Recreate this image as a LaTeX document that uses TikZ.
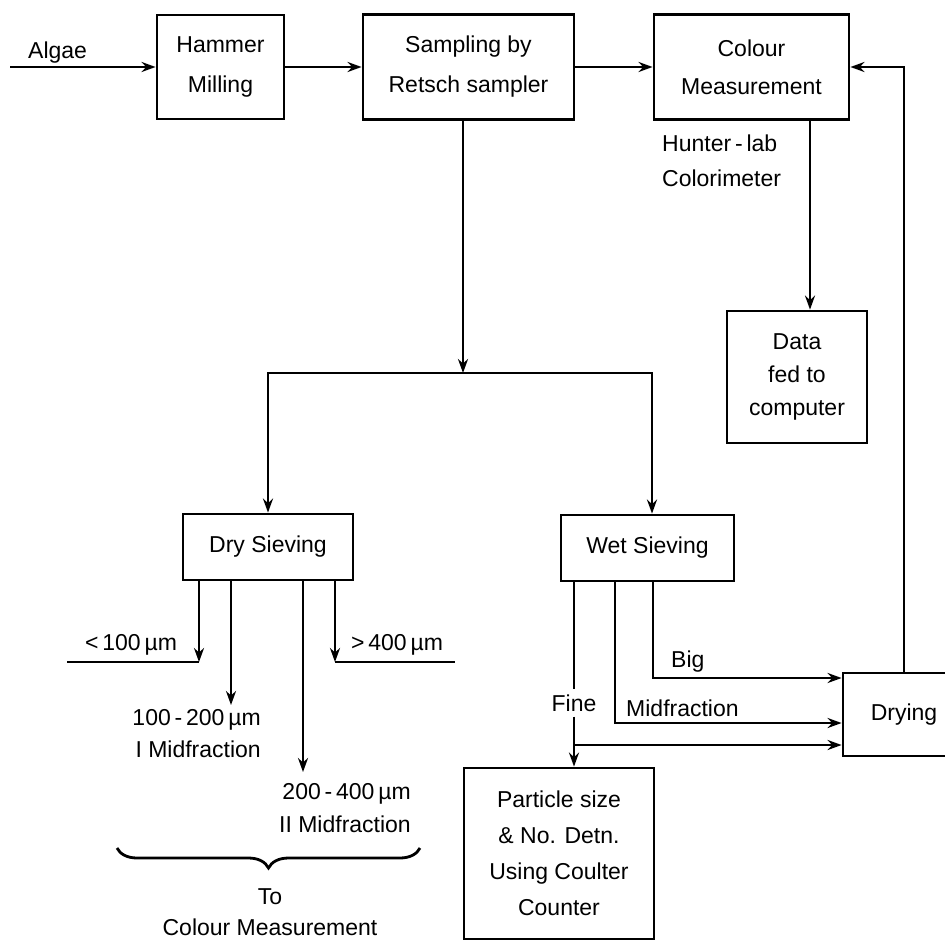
\documentclass[tikz,border=0pt]{standalone}
\usepackage{fontspec}
\setmainfont{Liberation Sans}
\usepackage{tikz}
\usetikzlibrary{arrows.meta,
                positioning,
                decorations.pathreplacing}
\tikzstyle{box} = [draw, line width=2.8pt, align=center, inner sep=0pt]
\tikzstyle{lbl} = [inner sep=1pt, align=center]
\tikzstyle{line} = [line width=2.8pt]
\tikzstyle{arrow} = [line width=2.8pt,-{Stealth[length=14pt,width=10pt]}]
\newcommand{\fs}[1]{\fontsize{23}{#1}\selectfont}

\begin{document}
\begin{tikzpicture}[x=1pt,y=-1pt,font=\fs{34}]
    \useasboundingbox (0,0) rectangle (945,940);
    \fill[white] (0,0) rectangle (945,940);
    \clip (0,0) rectangle (945,940);

    % top row
    \coordinate (feed) at (10,67);
    \node[lbl, anchor=base west] (algae) at (27,58) {Algae};
    \node[box, minimum width=127pt, minimum height=104pt, font=\fs{40}] (hammer) at (220.5,67) {Hammer\\Milling};
    \node[box, minimum width=211pt, minimum height=105pt, font=\fs{40}] (sample) at (468.5,67) {Sampling by\\Retsch sampler};
    \node[box, minimum width=195pt, minimum height=105pt, font=\fs{38}] (colour) at (751.5,67) {Colour\\Measurement};
    \node[lbl, anchor=west, align=left, font=\fs{35}] (hunter) at (661,161) {Hunter\,-\,lab\\Colorimeter};
    \node[box, minimum width=140pt, minimum height=132pt, font=\fs{33}] (data) at (797,377) {Data\\fed to\\computer};

    % sieving
    \coordinate (split) at (463,373);
    \node[box, minimum width=170pt, minimum height=66pt] (dry) at (268,547) {Dry Sieving};
    \node[box, minimum width=173pt, minimum height=66pt] (wet) at (647.5,548) {Wet Sieving};
    \node[box, minimum width=122pt, minimum height=83pt] (drying) at (904,714.5) {Drying};
    \node[box, minimum width=190pt, minimum height=171pt, font=\fs{36}] (particle) at (559,853.5) {Particle size\\\& No. Detn.\\Using Coulter\\Counter};

    % dry sieving fractions
    \coordinate (ltend) at (199,662);
    \coordinate (gtend) at (335,662);
    \coordinate (midIend) at (231,705);
    \coordinate (midIIend) at (303,772);
    \node[lbl] (lt100) at (131,645) {<\,100\,µm};
    \node[lbl] (gt400) at (397,645) {>\,400\,µm};
    \node[lbl, anchor=east, align=right, font=\fs{32}] (midI) at (262,734) {100\,-\,200\,µm\\I Midfraction};
    \node[lbl, anchor=east, align=right, font=\fs{33}] (midII) at (412,808.5) {200\,-\,400\,µm\\II Midfraction};
    \node[lbl, font=\fs{31}] (tocolour) at (270,912) {To\\Colour Measurement};

    % wet sieving fractions
    \node[lbl, inner sep=5pt] (fine) at (574,703) {Fine};
    \node[lbl, anchor=west] (big) at (670,662) {Big};
    \node[lbl, anchor=west] (midW) at (625,708) {Midfraction};
    \coordinate (finebr) at (574,745);

    \draw[arrow] (feed) -- (hammer.west);
    \draw[arrow] (hammer.east) -- (sample.west);
    \draw[arrow] (sample.east) -- (colour.west);
    \draw[arrow] ([xshift=58.5pt]colour.south) -- ([xshift=13pt]data.north);
    \draw[arrow] (drying.north) |- (colour.east);

    \draw[arrow] (sample.south -| split) -- (split);
    \draw[arrow] (split) -| (dry.north);
    \draw[arrow] (split) -| ([xshift=4.5pt]wet.north);

    \draw[arrow] ([xshift=-69pt]dry.south) -- (ltend);
    \draw[line] (ltend) -- ++(-132,0);
    \draw[arrow] ([xshift=-37pt]dry.south) -- (midIend);
    \draw[arrow] ([xshift=35pt]dry.south) -- (midIIend);
    \draw[arrow] ([xshift=67pt]dry.south) -- (gtend);
    \draw[line] (gtend) -- ++(120,0);
    \draw[line, decorate, decoration={brace, mirror, amplitude=20pt}] (117,848) -- (420,848);

    \draw[line] ([xshift=-73.5pt]wet.south) -- (fine);
    \draw[arrow] (fine) -- (fine |- particle.north);
    \draw[arrow] (finebr) -- ([yshift=-30.5pt]drying.west);
    \draw[arrow] ([xshift=-32.5pt]wet.south) |- ([yshift=-8.5pt]drying.west);
    \draw[arrow] ([xshift=5.5pt]wet.south) |- ([yshift=36.5pt]drying.west);
\end{tikzpicture}
\end{document}
